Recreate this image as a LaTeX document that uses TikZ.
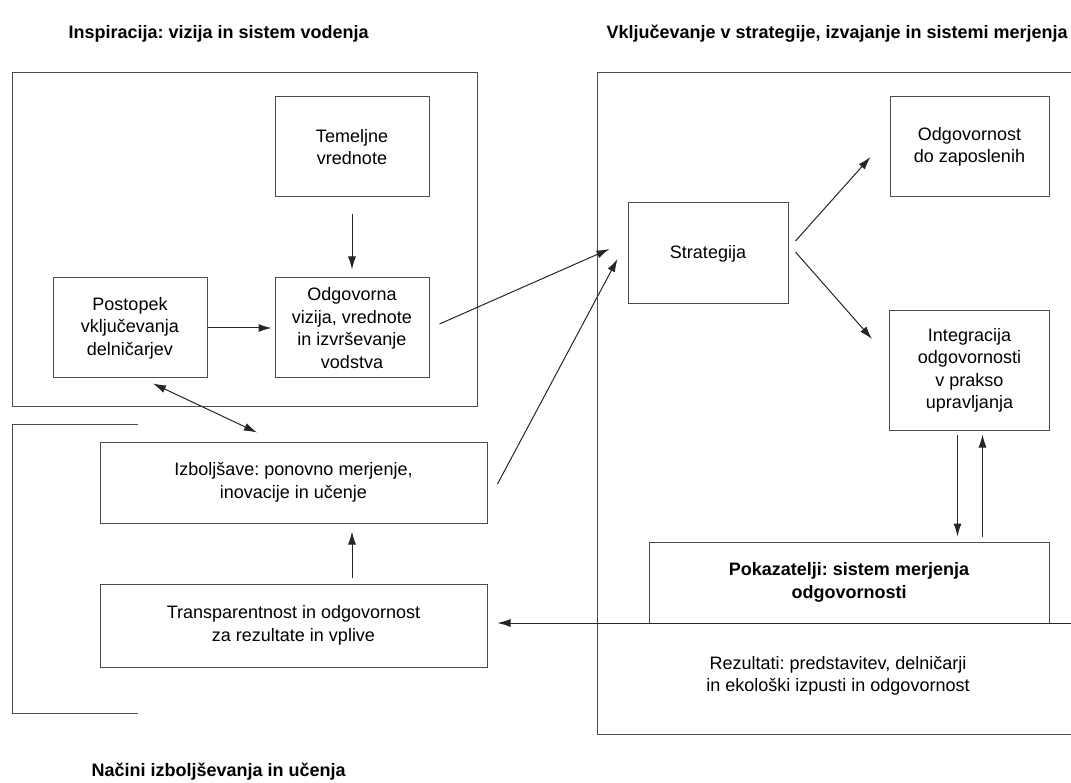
\documentclass[tikz,border=0pt]{standalone}
\usepackage{fontspec}
\setmainfont{Liberation Sans}
\frenchspacing
\usetikzlibrary{positioning,arrows.meta}

\begin{document}
\begin{tikzpicture}[
  x=1pt, y=-1pt,
  every node/.style={font=\fontsize{18}{22.5}\selectfont},
  box/.style={rectangle, draw=black!70, line width=1pt, align=center, inner sep=2pt},
  panel/.style={draw=black!70, line width=1pt},
  heading/.style={font=\fontsize{18}{22.5}\selectfont\bfseries, anchor=west},
  note/.style={align=center},
  arr/.style={-{Latex[length=13pt,width=8pt]}, line width=1pt, draw=black!85},
  dblarr/.style={{Latex[length=13pt,width=8pt]}-{Latex[length=13pt,width=8pt]}, line width=1pt, draw=black!85}
]
\useasboundingbox (0,0) rectangle (1071,783);

\node[heading] (tL) at (65,34)  {Inspiracija: vizija in sistem vodenja};
\node[heading] (tR) at (603,34) {Vključevanje v strategije, izvajanje in sistemi merjenja};
\node[heading] (tB) at (88,772) {Načini izboljševanja in učenja};

% the three framed areas
\draw[panel] (12,73) rectangle (477,407);
\draw[panel] (1071,73) -- (597,73) -- (597,734) -- (1071,734);
\draw[panel] (138,425) -- (12,425) -- (12,713) -- (138,713);

\node[box, minimum width=154pt, minimum height=100pt]                   (tem)   at (352,147) {Temeljne\\vrednote};
\node[box, minimum width=154pt, minimum height=100pt, below=80pt of tem] (viz)  {Odgovorna\\vizija, vrednote\\in izvrševanje\\vodstva};
\node[box, minimum width=154pt, minimum height=100pt, left=67pt of viz]  (post) {Postopek\\vključevanja\\delničarjev};
\node[box, minimum width=387pt, minimum height=81pt]                    (izb)   at (293.5,482.5) {Izboljšave: ponovno merjenje,\\inovacije in učenje};
\node[box, minimum width=387pt, minimum height=83pt, below=60pt of izb]  (trans) {Transparentnost in odgovornost\\za rezultate in vplive};
\node[box, minimum width=160pt, minimum height=101pt]                   (str)   at (708,253.5) {Strategija};
\node[box, minimum width=159pt, minimum height=100pt]                   (oz)    at (969.5,147) {Odgovornost\\do zaposlenih};
\node[box, minimum width=160pt, minimum height=119pt, below=113pt of oz] (integ) {Integracija\\odgovornosti\\v prakso\\upravljanja};
\node[box, minimum width=400pt, minimum height=81pt, font=\fontsize{18}{22.5}\selectfont\bfseries]
                                                                        (pok)   at (849,582.5) {Pokazatelji: sistem merjenja\\odgovornosti};
\node[note] (rez) at (838,676) {Rezultati: predstavitev, delničarji\\in ekološki izpusti in odgovornost};
\coordinate (rob) at (1071,623);

\draw[arr, shorten <=17pt, shorten >=8pt] (tem) -- (viz);
\draw[arr, shorten >=3pt] (post) -- (viz);
\draw[dblarr] ([xshift=23pt,yshift=-5pt]post.south) -- ([xshift=-36.5pt,yshift=9pt]izb.north);
\draw[arr] ([xshift=10pt,yshift=4pt]viz.east) -- ([xshift=-18pt,yshift=4.5pt]str.west);
\draw[arr] ([xshift=10pt,yshift=-1.5pt]izb.east) -- ([xshift=-10pt,yshift=-5.5pt]str.west);
\draw[arr] ([xshift=7pt,yshift=12.5pt]str.east) -- ([xshift=-19pt,yshift=-10pt]oz.west);
\draw[arr] ([xshift=7pt,yshift=1.5pt]str.east) -- ([xshift=-17pt,yshift=31.5pt]integ.west);
\draw[arr, shorten <=4pt, shorten >=5pt] ([xshift=-12pt]integ.south) -- ([xshift=-12pt]integ.south |- pok.north);
\draw[arr, shorten <=5pt, shorten >=4pt] ([xshift=13pt]integ.south |- pok.north) -- ([xshift=13pt]integ.south);
\draw[arr, shorten >=10pt] (rob) -- (rob -| trans.east);
\draw[arr, shorten <=6pt, shorten >=8pt] ([xshift=58.5pt]trans.north) -- ([xshift=58.5pt]izb.south);

\end{tikzpicture}
\end{document}
